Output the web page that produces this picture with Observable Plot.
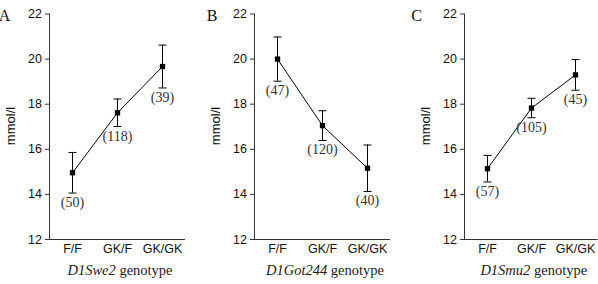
<!DOCTYPE html>
<html><head><meta charset="utf-8">
<script src="https://cdn.jsdelivr.net/npm/d3@7"></script>
<script src="https://cdn.jsdelivr.net/npm/@observablehq/plot@0.6"></script>
<style>
html,body{margin:0;padding:0;background:#fff;}
#wrap{position:relative;width:598px;height:284px;overflow:hidden;background:#fff;}
#wrap > div{position:absolute;top:0;}
</style></head><body><div id="wrap"></div>
<script>
const genotypes = ["F/F", "GK/F", "GK/GK"];
const panelLetters = ["A", "B", "C"];
const markerNames = ["D1Swe2", "D1Got244", "D1Smu2"];
const yTicks = [12, 14, 16, 18, 20, 22];
const yLabel = "mmol/l";

const meansA = [14.96, 17.62, 19.67];
const errA = [0.9, 0.61, 0.95];
const countsA = [50, 118, 39];

const meansB = [20.0, 17.05, 15.16];
const errB = [0.98, 0.66, 1.03];
const countsB = [47, 120, 40];

const meansC = [15.14, 17.83, 19.3];
const errC = [0.59, 0.43, 0.68];
const countsC = [57, 105, 45];

const panels = [
  {means: meansA, err: errA, counts: countsA},
  {means: meansB, err: errB, counts: countsB},
  {means: meansC, err: errC, counts: countsC}
];
const layout = [
  {left: 0, width: 199, mL: 49, mR: 14, letterX: 4.5},
  {left: 199, width: 199, mL: 55, mR: 8, letterX: 13},
  {left: 398, width: 200, mL: 66, mR: 0.5, letterX: 18.5}
];

const capSymbol = {
  draw(ctx, size) {
    const w = Math.sqrt(size / Math.PI);
    ctx.moveTo(-w, 0);
    ctx.lineTo(w, 0);
  }
};

const serif = "'Liberation Serif', 'Times New Roman', serif";
const sans = "'Liberation Sans', Arial, sans-serif";
const wrap = document.getElementById("wrap");

panels.forEach((p, i) => {
  const L = layout[i];
  const data = genotypes.map((g, j) => ({
    g, mean: p.means[j], lo: p.means[j] - p.err[j], hi: p.means[j] + p.err[j], n: p.counts[j]
  }));
  const chart = Plot.plot({
    width: L.width, height: 284,
    marginLeft: L.mL, marginRight: L.mR, marginTop: 13.5, marginBottom: 45,
    style: {fontFamily: sans, fontSize: "12.5px", color: "#111", background: "transparent", overflow: "visible"},
    x: {type: "point", domain: genotypes, padding: 0.5},
    y: {domain: [12, 22]},
    marks: [
      Plot.axisY(yTicks, {tickSize: 4, tickPadding: 3.5, label: null, stroke: "#333"}),
      Plot.axisX({tickSize: 0, tickPadding: 5, label: null}),
      Plot.ruleY([12], {stroke: "#333"}),
      Plot.frame({anchor: "left", stroke: "#333"}),
      Plot.ruleX(data, {x: "g", y1: "lo", y2: "hi", stroke: "#000", strokeWidth: 1}),
      Plot.dot(data, {x: "g", y: "hi", symbol: capSymbol, r: 4, stroke: "#000", strokeWidth: 1}),
      Plot.dot(data, {x: "g", y: "lo", symbol: capSymbol, r: 4, stroke: "#000", strokeWidth: 1}),
      Plot.line(data, {x: "g", y: "mean", stroke: "#000", strokeWidth: 1}),
      Plot.dot(data, {x: "g", y: "mean", symbol: "square", fill: "#000", r: 3}),
      Plot.text(data, {x: "g", y: "lo", text: d => `(${d.n})`, dy: 9.5, fontFamily: serif, fontSize: 14, fill: "#333"})
    ]
  });
  const div = document.createElement("div");
  div.style.left = L.left + "px";
  div.appendChild(chart);
  wrap.appendChild(div);

  const svg = d3.select(chart);
  svg.append("text")
    .attr("transform", `translate(${L.mL - 38.5},126) rotate(-90)`)
    .attr("text-anchor", "middle").attr("dy", "0.35em")
    .attr("font-family", sans).attr("font-size", 13).attr("fill", "#111")
    .text(yLabel);
  svg.append("text")
    .attr("x", L.letterX).attr("y", 20.5)
    .attr("font-family", serif).attr("font-size", 16).attr("fill", "#111")
    .text(panelLetters[i]);
  const cx = (L.mL + (L.width - L.mR)) / 2 + 3;
  const t = svg.append("text")
    .attr("x", cx).attr("y", 275)
    .attr("text-anchor", "middle")
    .attr("font-family", serif).attr("font-size", 14.5).attr("fill", "#222");
  t.append("tspan").attr("font-style", "italic").text(markerNames[i]);
  t.append("tspan").text(" genotype");
});
</script>
</body></html>
